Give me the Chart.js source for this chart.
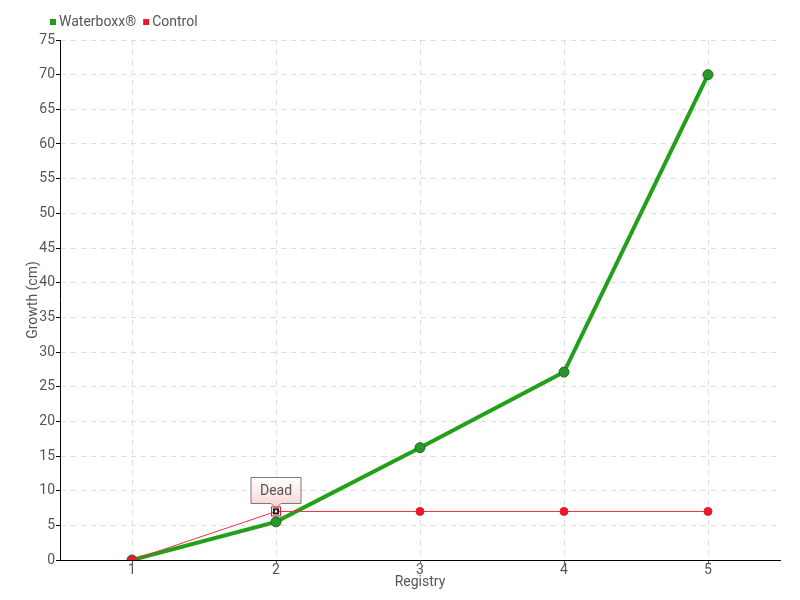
<!DOCTYPE html>
<html>
<head>
<meta charset="utf-8">
<script src="https://cdn.jsdelivr.net/npm/chart.js@4"></script>
<style>
  html, body { margin: 0; padding: 0; background: #fff; }
  #wrap { width: 800px; height: 600px; }
</style>
</head>
<body>
<div id="wrap"><canvas id="my-chart"></canvas></div>
<script>
const registry = ["1", "2", "3", "4", "5"];
const waterboxx = [0, 5.5, 16.2, 27.1, 70];
const control = [0, 7, 7, 7, 7];
const deadIndex = 1;
const deadLabel = "Dead";

const font = "Roboto, 'Liberation Sans', sans-serif";
Chart.defaults.font.family = font;
Chart.defaults.color = "#555";

// little callout box above the dead point
const deadPlugin = {
  id: "dead",
  afterDatasetsDraw(chart) {
    const meta = chart.getDatasetMeta(0);
    const pt = meta.data[deadIndex];
    const c = chart.ctx;
    const w = 50, h = 26;
    const x = pt.x - w / 2, y = pt.y - 34;
    c.save();
    const g = c.createLinearGradient(0, y, 0, y + h);
    g.addColorStop(0, "#ffffff");
    g.addColorStop(1, "#fbd9d9");
    c.beginPath();
    c.moveTo(x, y);
    c.lineTo(x + w, y);
    c.lineTo(x + w, y + h);
    c.lineTo(pt.x + 5, y + h);
    c.lineTo(pt.x, y + h + 5);
    c.lineTo(pt.x - 5, y + h);
    c.lineTo(x, y + h);
    c.closePath();
    c.fillStyle = g;
    c.fill();
    c.strokeStyle = "#777";
    c.lineWidth = 1;
    c.stroke();
    c.fillStyle = "#555";
    c.font = "14px " + font;
    c.textAlign = "center";
    c.textBaseline = "middle";
    c.fillText(deadLabel, pt.x, y + h / 2 + 1);
    // red ring round the dead marker
    c.strokeStyle = "#e8182c";
    c.lineWidth = 1;
    c.strokeRect(pt.x - 4.5, pt.y - 4.5, 9, 9);
    c.restore();
  },
};

// legend drawn top-left, waterboxx first
const legendPlugin = {
  id: "miniLegend",
  afterDraw(chart) {
    const c = chart.ctx;
    const items = chart.data.datasets.slice().reverse();
    let x = 50;
    const y = 22;
    c.save();
    c.font = "14px " + font;
    c.textBaseline = "middle";
    items.forEach((ds) => {
      c.fillStyle = ds.backgroundColor;
      c.fillRect(x, y - 3, 6, 6);
      x += 9;
      c.fillStyle = "#555";
      c.fillText(ds.label, x, y);
      x += c.measureText(ds.label).width + 7;
    });
    c.restore();
  },
};

const ctx = document.getElementById("my-chart");

new Chart(ctx, {
  type: "line",
  data: {
    labels: registry,
    datasets: [
      {
        label: "Control",
        data: control,
        borderColor: "#ee3040",
        borderWidth: 1,
        backgroundColor: "#e8182c",
        pointBackgroundColor: control.map((v, i) => (i === deadIndex ? "#ffffff" : "#e8182c")),
        pointBorderColor: control.map((v, i) => (i === deadIndex ? "#222222" : "#e8182c")),
        pointBorderWidth: control.map((v, i) => (i === deadIndex ? 2 : 1)),
        pointStyle: control.map((v, i) => (i === deadIndex ? "rect" : "circle")),
        pointRadius: control.map((v, i) => (i === deadIndex ? 3 : 4)),
        tension: 0,
      },
      {
        label: "Waterboxx®",
        data: waterboxx,
        borderColor: "#22a01a",
        borderWidth: 4,
        backgroundColor: "#1e9e14",
        pointBackgroundColor: "#2a952a",
        pointBorderColor: "#1c6e1c",
        pointBorderWidth: 1,
        pointRadius: 5,
        tension: 0,
      },
    ],
  },
  plugins: [deadPlugin, legendPlugin],
  options: {
    animation: false,
    responsive: true,
    maintainAspectRatio: false,
    layout: { padding: { left: 0, right: 20, top: 40, bottom: 0 } },
    plugins: {
      tooltip: { enabled: false },
      legend: { display: false },
    },
    scales: {
      x: {
        offset: true,
        title: { display: true, text: "Registry", font: { size: 14 }, color: "#555", padding: { top: 0, bottom: 9 } },
        grid: {
          color: "#dddddd",
          tickColor: "#555",
          tickLength: 4,
          offset: false,
        },
        border: { color: "#000", width: 1, dash: [5, 5] },
        ticks: { font: { size: 14 }, color: "#555", padding: -2 },
        afterFit(scale) { scale.height = 40; },
      },
      y: {
        min: 0,
        max: 75,
        title: { display: true, text: "Growth (cm)", font: { size: 14 }, color: "#555", padding: { top: 25, bottom: 0 } },
        grid: { color: "#dddddd", tickColor: "#000", tickLength: 4 },
        border: { color: "#000", width: 1, dash: [5, 5] },
        ticks: { stepSize: 5, font: { size: 14 }, color: "#555", padding: 1 },
        afterFit(scale) { scale.width = 60; },
      },
    },
  },
});
</script>
</body>
</html>
